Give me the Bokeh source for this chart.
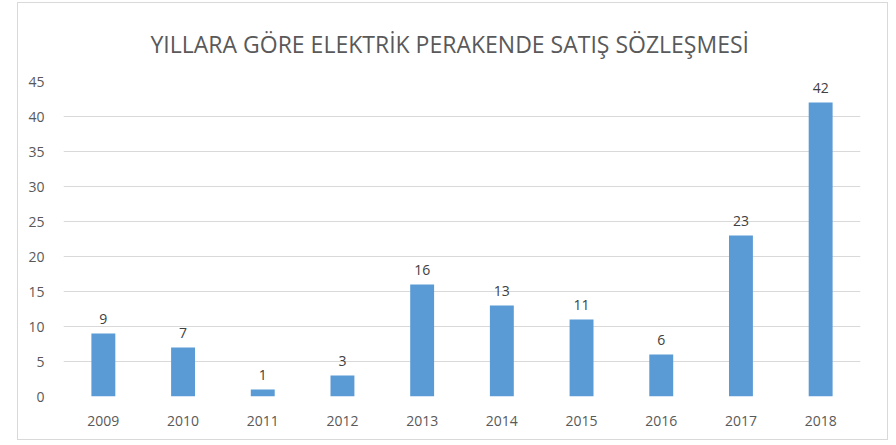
from bokeh.plotting import figure
from bokeh.layouts import column
from bokeh.models import ColumnDataSource, FactorRange, Range1d, SingleIntervalTicker
from bokeh.core.properties import value
from bokeh.embed import file_html
from bokeh.resources import INLINE

years = ["2009", "2010", "2011", "2012", "2013", "2014", "2015", "2016", "2017", "2018"]
counts = [9, 7, 1, 3, 16, 13, 11, 6, 23, 42]
title_text = "YILLARA GÖRE ELEKTRİK PERAKENDE SATIŞ SÖZLEŞMESİ"

src = ColumnDataSource(dict(x=years, y=counts, t=[str(c) for c in counts]))

p = figure(x_range=FactorRange(*years), y_range=Range1d(0, 45),
           width=869, height=436, output_backend="svg", toolbar_location=None,
           min_border_left=45, min_border_right=27, min_border_top=78, min_border_bottom=43,
           title=title_text)
p.outline_line_color = None
p.background_fill_color = "white"
p.border_fill_color = "white"

p.title.align = "left"
p.title.offset = 87
p.title.text_font = "Open Sans"
p.title.text_font_size = "23px"
p.title.text_font_style = "normal"
p.title.text_color = "#595959"
p.title.standoff = 44

p.vbar(x="x", top="y", width=0.3, source=src, fill_color="#5B9BD5", line_color=None)
p.text(x="x", y="y", text="t", source=src, text_align="center", text_baseline="bottom",
       y_offset=-10, text_font=value("Open Sans"), text_font_size="14px", text_color="#404040")

p.yaxis.ticker = SingleIntervalTicker(interval=5)
for ax in (p.xaxis, p.yaxis):
    ax.axis_line_color = None
    ax.major_tick_line_color = None
    ax.minor_tick_line_color = None
    ax.major_label_text_font = "Open Sans"
    ax.major_label_text_font_size = "14px"
    ax.major_label_text_color = "#595959"
    ax.major_label_standoff = 13
p.xgrid.grid_line_color = None
p.ygrid.grid_line_color = "#d9d9d9"
p.ygrid.grid_line_width = 1
p.x_range.range_padding = 0

lay = column(p, styles={"border": "1px solid #d9d9d9", "margin-left": "17px", "margin-top": "2px"})

open("out.html", "w").write(file_html(lay, INLINE))
